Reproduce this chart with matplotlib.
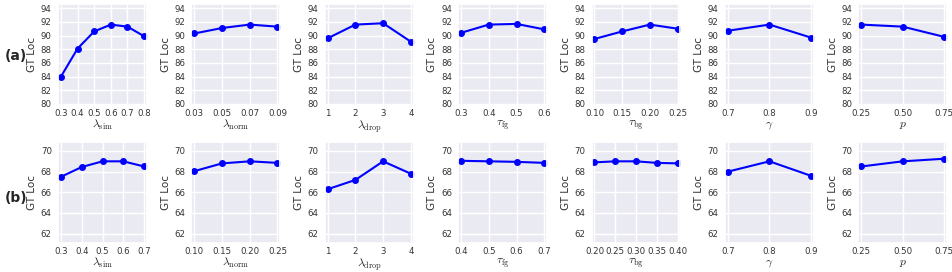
import numpy as np
import matplotlib
matplotlib.use("Agg")
import matplotlib.pyplot as plt
import seaborn as sns

sns.set_theme(style="darkgrid")
plt.rcParams["mathtext.fontset"] = "cm"

# hyper-parameter sweeps: (label, x values, row (a) values) / row (b)
labels = [r"$\lambda_{\rm sim}$", r"$\lambda_{\rm norm}$", r"$\lambda_{\rm drop}$",
          r"$\tau_{\rm fg}$", r"$\tau_{\rm bg}$", r"$\gamma$", r"$p$"]

a_x = [
    [0.3, 0.4, 0.5, 0.6, 0.7, 0.8],
    [0.03, 0.05, 0.07, 0.09],
    [1, 2, 3, 4],
    [0.3, 0.4, 0.5, 0.6],
    [0.10, 0.15, 0.20, 0.25],
    [0.7, 0.8, 0.9],
    [0.25, 0.50, 0.75],
]
a_y = [
    [84.0, 88.1, 90.6, 91.6, 91.3, 89.9],
    [90.3, 91.1, 91.6, 91.3],
    [89.6, 91.6, 91.8, 89.1],
    [90.4, 91.6, 91.7, 90.9],
    [89.5, 90.6, 91.6, 91.0],
    [90.7, 91.6, 89.7],
    [91.6, 91.3, 89.8],
]
a_xticklabels = [
    ["0.3", "0.4", "0.5", "0.6", "0.7", "0.8"],
    ["0.03", "0.05", "0.07", "0.09"],
    ["1", "2", "3", "4"],
    ["0.3", "0.4", "0.5", "0.6"],
    ["0.10", "0.15", "0.20", "0.25"],
    ["0.7", "0.8", "0.9"],
    ["0.25", "0.50", "0.75"],
]

b_x = [
    [0.3, 0.4, 0.5, 0.6, 0.7],
    [0.10, 0.15, 0.20, 0.25],
    [1, 2, 3, 4],
    [0.4, 0.5, 0.6, 0.7],
    [0.20, 0.25, 0.30, 0.35, 0.40],
    [0.7, 0.8, 0.9],
    [0.25, 0.50, 0.75],
]
b_y = [
    [67.5, 68.45, 69.0, 69.0, 68.5],
    [68.05, 68.8, 69.0, 68.85],
    [66.3, 67.2, 69.0, 67.8],
    [69.05, 69.0, 68.95, 68.85],
    [68.9, 69.0, 69.0, 68.85, 68.8],
    [68.0, 69.0, 67.6],
    [68.5, 69.0, 69.25],
]
b_xticklabels = [
    ["0.3", "0.4", "0.5", "0.6", "0.7"],
    ["0.10", "0.15", "0.20", "0.25"],
    ["1", "2", "3", "4"],
    ["0.4", "0.5", "0.6", "0.7"],
    ["0.20", "0.25", "0.30", "0.35", "0.40"],
    ["0.7", "0.8", "0.9"],
    ["0.25", "0.50", "0.75"],
]

a_yticks = [80, 82, 84, 86, 88, 90, 92, 94]
b_yticks = [62, 64, 66, 68, 70]

fig, axes = plt.subplots(2, 7, figsize=(9.52, 2.72), dpi=100)
fig.subplots_adjust(left=0.061, right=0.995, top=0.985, bottom=0.107,
                    wspace=0.5, hspace=0.36)

rows = [(a_x, a_y, a_xticklabels, a_yticks, (79.8, 94.6)),
        (b_x, b_y, b_xticklabels, b_yticks, (61.1, 70.9))]

for r, (xs, ys, xtl, yt, ylim) in enumerate(rows):
    for c in range(7):
        ax = axes[r, c]
        ax.plot(xs[c], ys[c], color="blue", marker="o", markersize=4, linewidth=1.5)
        ax.set_xticks(xs[c])
        ax.set_xticklabels(xtl[c])
        ax.set_yticks(yt)
        ax.set_ylim(*ylim)
        span = xs[c][-1] - xs[c][0]
        ax.set_xlim(xs[c][0] - 0.035 * span, xs[c][-1] + 0.035 * span)
        ax.tick_params(labelsize=6.2, length=0, colors="#333333")
        ax.tick_params(axis="x", pad=3)
        ax.tick_params(axis="y", pad=4.5)
        ax.set_ylabel("GT Loc", fontsize=7.5, labelpad=2.5, color="#333333")
        ax.set_xlabel(labels[c], fontsize=8.5, labelpad=0)

fig.text(0.005, 0.794, "(a)", fontsize=10, fontweight="bold", va="center")
fig.text(0.005, 0.272, "(b)", fontsize=10, fontweight="bold", va="center")

fig.savefig("out.png", dpi=100)
